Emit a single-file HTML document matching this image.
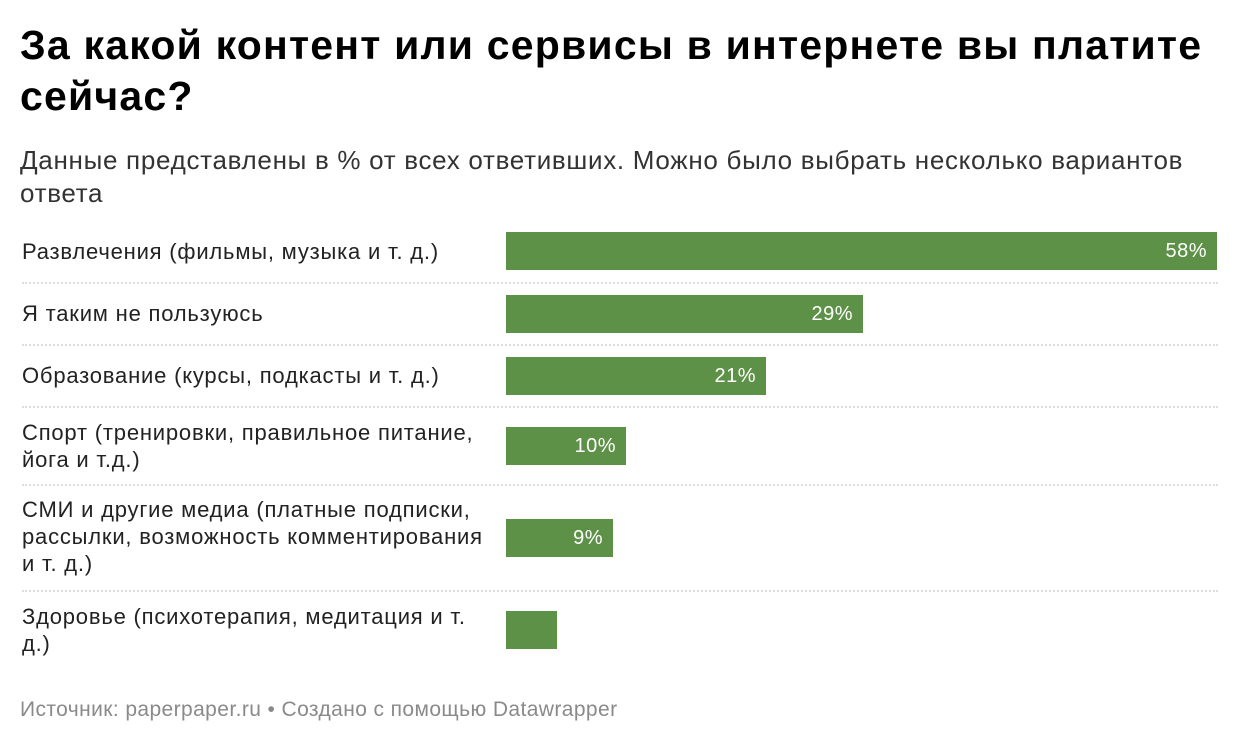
<!DOCTYPE html>
<html><head><meta charset="utf-8"><style>
body{margin:0;width:1240px;height:740px;background:#fff;font-family:"Liberation Sans",sans-serif;color:#1d1d1d;position:relative;overflow:hidden}
.a{position:absolute;white-space:nowrap}
h1{position:absolute;left:20px;top:20px;margin:0;font-size:41px;line-height:51px;font-weight:bold;color:#000;letter-spacing:1.2px;white-space:nowrap}
.sub{left:20px;top:144px;font-size:26px;line-height:33px;color:#333;letter-spacing:0.7px}
.lab{left:22px;font-size:22px;line-height:27px;letter-spacing:0.8px;color:#222}
.bar{position:absolute;left:506px;height:38px;background:#5d9147;color:#fff;font-size:20px;line-height:38px;text-align:right;box-sizing:border-box;padding-right:10px;letter-spacing:0.5px}
.sep{position:absolute;left:22px;width:1196px;border-top:2px dotted #ddd;height:0}
.foot{left:20px;top:698px;font-size:21px;color:#8a8a8a;letter-spacing:0.4px}
</style></head><body>
<h1>За какой контент или сервисы в интернете вы платите<br>сейчас?</h1>
<div class="a sub">Данные представлены в % от всех ответивших. Можно было выбрать несколько вариантов<br>ответа</div>

<div class="a lab" style="top:238px">Развлечения (фильмы, музыка и т. д.)</div>
<div class="bar" style="top:232px;width:711px">58%</div>
<div class="sep" style="top:282px"></div>

<div class="a lab" style="top:300px">Я таким не пользуюсь</div>
<div class="bar" style="top:295px;width:357px">29%</div>
<div class="sep" style="top:344px"></div>

<div class="a lab" style="top:362px">Образование (курсы, подкасты и т. д.)</div>
<div class="bar" style="top:357px;width:260px">21%</div>
<div class="sep" style="top:406px"></div>

<div class="a lab" style="top:419px">Спорт (тренировки, правильное питание,<br>йога и т.д.)</div>
<div class="bar" style="top:427px;width:120px">10%</div>
<div class="sep" style="top:484px"></div>

<div class="a lab" style="top:496px">СМИ и другие медиа (платные подписки,<br>рассылки, возможность комментирования<br>и т. д.)</div>
<div class="bar" style="top:519px;width:107px">9%</div>
<div class="sep" style="top:590px"></div>

<div class="a lab" style="top:603px">Здоровье (психотерапия, медитация и т.<br>д.)</div>
<div class="bar" style="top:611px;width:51px"></div>

<div class="a foot">Источник: paperpaper.ru • Создано с помощью Datawrapper</div>
</body></html>
